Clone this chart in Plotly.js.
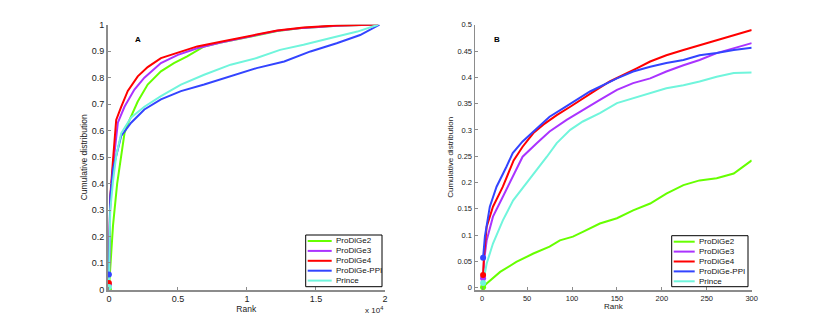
<!DOCTYPE html>
<html>
<head>
<meta charset="utf-8">
<script src="https://cdn.plot.ly/plotly-3.0.1.min.js"></script>
<style>
  html, body { margin: 0; padding: 0; background: #fff; }
  #myDiv { width: 830px; height: 326px; }
</style>
</head>
<body>
<div id="myDiv"></div>
<script>
// series names and colours
var names = ["ProDiGe2", "ProDiGe3", "ProDiGe4", "ProDiGe-PPI", "Prince"];
var colors = ["#66ff00", "#aa33ff", "#ff0000", "#3344ff", "#70f5dc"];

// panel A: whole ranking (rank, cumulative fraction)
var a_green_x = [1, 100, 300, 600, 890, 1130, 1490, 2090, 2810, 3770, 4710, 5670, 6900, 8100, 10300, 12200, 14100, 16500, 18900, 19500];
var a_green_y = [0.001, 0.097, 0.242, 0.4, 0.505, 0.59, 0.64, 0.71, 0.774, 0.824, 0.855, 0.88, 0.918, 0.933, 0.955, 0.976, 0.988, 0.996, 1.0, 1.0];
var a_purple_x = [1, 100, 300, 650, 1130, 1850, 2570, 3770, 5000, 6400, 8100, 10300, 12200, 14100, 16500, 18900, 19500];
var a_purple_y = [0.018, 0.34, 0.465, 0.63, 0.69, 0.755, 0.8, 0.855, 0.886, 0.911, 0.933, 0.956, 0.977, 0.988, 0.996, 1.0, 1.0];
var a_red_x = [1, 100, 300, 530, 890, 1370, 2090, 2810, 3770, 5000, 6400, 8100, 10300, 12200, 14100, 16500, 18900, 19500];
var a_red_y = [0.024, 0.35, 0.49, 0.64, 0.69, 0.75, 0.805, 0.84, 0.874, 0.895, 0.918, 0.936, 0.958, 0.978, 0.989, 0.997, 1.0, 1.0];
var a_blue_x = [1, 100, 300, 890, 1610, 2570, 3770, 5220, 6900, 8820, 10700, 12700, 14600, 16500, 18200, 19600];
var a_blue_y = [0.057, 0.35, 0.456, 0.58, 0.63, 0.68, 0.718, 0.749, 0.774, 0.805, 0.836, 0.861, 0.899, 0.93, 0.961, 1.0];
var a_cyan_x = [1, 100, 300, 530, 890, 1610, 2570, 3770, 5220, 6900, 8820, 10700, 12400, 14100, 16000, 18000, 19500];
var a_cyan_y = [0.009, 0.3, 0.409, 0.505, 0.59, 0.65, 0.69, 0.73, 0.774, 0.811, 0.849, 0.874, 0.905, 0.924, 0.949, 0.974, 1.0];

// panel B: top 300 ranks
var b_green_x = [1, 5, 20, 38, 57, 75, 86.5, 101, 112, 131, 150, 168, 187, 205, 224, 242, 261, 280, 300];
var b_green_y = [0.001, 0.008, 0.03, 0.049, 0.065, 0.078, 0.09, 0.097, 0.106, 0.122, 0.132, 0.147, 0.16, 0.179, 0.195, 0.204, 0.208, 0.217, 0.242];
var b_purple_x = [1, 2, 5, 12, 23, 36, 45, 61, 75, 94, 112, 131, 150, 168, 187, 205, 224, 242, 261, 280, 300];
var b_purple_y = [0.018, 0.05, 0.09, 0.135, 0.173, 0.217, 0.249, 0.275, 0.297, 0.319, 0.338, 0.357, 0.376, 0.389, 0.398, 0.411, 0.423, 0.433, 0.446, 0.455, 0.465];
var b_red_x = [1, 2, 5, 12, 23, 35, 45, 57, 68, 83, 98, 112, 127, 142, 157, 172, 187, 205, 224, 242, 261, 283, 300];
var b_red_y = [0.024, 0.06, 0.116, 0.154, 0.192, 0.242, 0.268, 0.294, 0.31, 0.328, 0.344, 0.36, 0.376, 0.392, 0.404, 0.417, 0.43, 0.442, 0.452, 0.461, 0.471, 0.482, 0.49];
var b_blue_x = [1, 3, 8.5, 16, 27, 34, 45, 61, 75, 90, 105, 120, 131, 150, 168, 187, 205, 224, 242, 261, 280, 300];
var b_blue_y = [0.057, 0.097, 0.154, 0.192, 0.23, 0.256, 0.278, 0.303, 0.325, 0.341, 0.357, 0.373, 0.382, 0.398, 0.411, 0.42, 0.427, 0.433, 0.442, 0.446, 0.452, 0.456];
var b_cyan_x = [1, 5, 12, 23, 34.5, 49, 64, 72, 83, 98, 112, 131, 150, 168, 187, 205, 224, 242, 261, 280, 300];
var b_cyan_y = [0.009, 0.046, 0.084, 0.128, 0.166, 0.198, 0.23, 0.249, 0.275, 0.3, 0.316, 0.332, 0.351, 0.36, 0.37, 0.379, 0.385, 0.392, 0.401, 0.408, 0.409];

// tick labels
var a_xtick_vals = [0, 5000, 10000, 15000, 20000];
var a_xtick_text = ["0", "0.5", "1", "1.5", "2"];
var a_ytick_vals = [0, 0.1, 0.2, 0.3, 0.4, 0.5, 0.6, 0.7, 0.8, 0.9, 1];
var a_ytick_text = ["0", "0.1", "0.2", "0.3", "0.4", "0.5", "0.6", "0.7", "0.8", "0.9", "1"];
var b_xtick_vals = [0, 50, 100, 150, 200, 250, 300];
var b_ytick_vals = [0, 0.05, 0.1, 0.15, 0.2, 0.25, 0.3, 0.35, 0.4, 0.45, 0.5];
var b_ytick_text = ["0", "0.05", "0.1", "0.15", "0.2", "0.25", "0.3", "0.35", "0.4", "0.45", "0.5"];

var panelA = [[a_green_x, a_green_y], [a_purple_x, a_purple_y], [a_red_x, a_red_y], [a_blue_x, a_blue_y], [a_cyan_x, a_cyan_y]];
var panelB = [[b_green_x, b_green_y], [b_purple_x, b_purple_y], [b_red_x, b_red_y], [b_blue_x, b_blue_y], [b_cyan_x, b_cyan_y]];

var W = 830, H = 326;
function px(x) { return x / W; }
function py(y) { return 1 - y / H; }

var data = [];
function addPanel(series, xa, ya) {
    for (var i = 0; i < series.length; i++) {
        data.push({
            x: series[i][0], y: series[i][1],
            xaxis: xa, yaxis: ya,
            mode: "lines", type: "scatter",
            line: {color: colors[i], width: 2},
            showlegend: false, hoverinfo: "skip"
        });
    }
    // start markers drawn on top
    for (var i = 0; i < series.length; i++) {
        data.push({
            x: [series[i][0][0]], y: [series[i][1][0]],
            xaxis: xa, yaxis: ya,
            mode: "markers", type: "scatter",
            marker: {color: colors[i], size: 6, line: {color: colors[i], width: 0}},
            showlegend: false, hoverinfo: "skip"
        });
    }
}
addPanel(panelA, "x", "y");
addPanel(panelB, "x2", "y2");

var fam = "Liberation Sans, Arial, sans-serif";
var axisCommon = {
    showline: true, linecolor: "#8c8c8c", linewidth: 1.5,
    ticks: "inside", ticklen: 3, tickcolor: "#8c8c8c",
    showgrid: false, zeroline: false, mirror: false
};
var fontA = {family: fam, size: 9, color: "#222"};
var fontB = {family: fam, size: 7.5, color: "#222"};

var shapes = [];
var annotations = [];

// hand-made legends (plotly's own rows are too tall for this size)
function addLegend(left, top, right, bottom, lineLen) {
    shapes.push({type: "rect", xref: "paper", yref: "paper",
        x0: px(left), x1: px(right), y0: py(bottom), y1: py(top),
        line: {color: "#000", width: 1}, fillcolor: "#fff"});
    for (var i = 0; i < names.length; i++) {
        var yy = top + 6 + i * 9.9;
        shapes.push({type: "line", xref: "paper", yref: "paper",
            x0: px(left + 2), x1: px(left + 2 + lineLen), y0: py(yy), y1: py(yy),
            line: {color: colors[i], width: 2}});
        annotations.push({xref: "paper", yref: "paper", x: px(left + 4 + lineLen), y: py(yy),
            xanchor: "left", yanchor: "middle", showarrow: false, text: names[i],
            font: {family: fam, size: 8, color: "#111"}});
    }
}
addLegend(305.7, 235, 382, 286.7, 24);
addLegend(671.7, 235.7, 748, 286.7, 21);

annotations.push({xref: "paper", yref: "paper", x: px(133), y: py(33), showarrow: false,
    text: "<b>A</b>", font: {family: fam, size: 8, color: "#000"}});
annotations.push({xref: "paper", yref: "paper", x: px(497), y: py(33), showarrow: false,
    text: "<b>B</b>", font: {family: fam, size: 8, color: "#000"}});
annotations.push({xref: "paper", yref: "paper", x: px(385), y: py(303), xanchor: "right", yanchor: "top",
    showarrow: false, text: "x 10<sup>4</sup>", font: {family: fam, size: 8, color: "#222"}});

var layout = {
    width: W, height: H,
    margin: {l: 0, r: 0, t: 0, b: 0},
    paper_bgcolor: "#fff", plot_bgcolor: "#fff",
    font: fontA,
    showlegend: false,
    xaxis: Object.assign({}, axisCommon, {
        domain: [px(107.5), px(385)], range: [-100, 20000],
        tickvals: a_xtick_vals, ticktext: a_xtick_text, tickfont: fontA, ticklabelstandoff: 0,
        title: {text: "Rank", font: {family: fam, size: 8.5, color: "#222"}, standoff: 0}
    }),
    yaxis: Object.assign({}, axisCommon, {
        domain: [py(290), py(24.7)], range: [-0.002, 1],
        tickvals: a_ytick_vals, ticktext: a_ytick_text, tickfont: fontA,
        title: {text: "Cumulative distribution", font: {family: fam, size: 8.5, color: "#222"}, standoff: 2}
    }),
    xaxis2: Object.assign({}, axisCommon, {
        domain: [px(475), px(751.7)], range: [-8, 300],
        tickvals: b_xtick_vals, anchor: "y2", tickfont: fontB, ticklabelstandoff: 0,
        title: {text: "Rank", font: {family: fam, size: 8, color: "#222"}, standoff: 0}
    }),
    yaxis2: Object.assign({}, axisCommon, {
        domain: [py(290), py(24.7)], range: [-0.0044, 0.5],
        tickvals: b_ytick_vals, ticktext: b_ytick_text, anchor: "x2", tickfont: fontB,
        title: {text: "Cumulative distribution", font: {family: fam, size: 8, color: "#222"}, standoff: 2}
    }),
    shapes: shapes,
    annotations: annotations
};

Plotly.newPlot("myDiv", data, layout, {staticPlot: true, displayModeBar: false});
</script>
</body>
</html>
